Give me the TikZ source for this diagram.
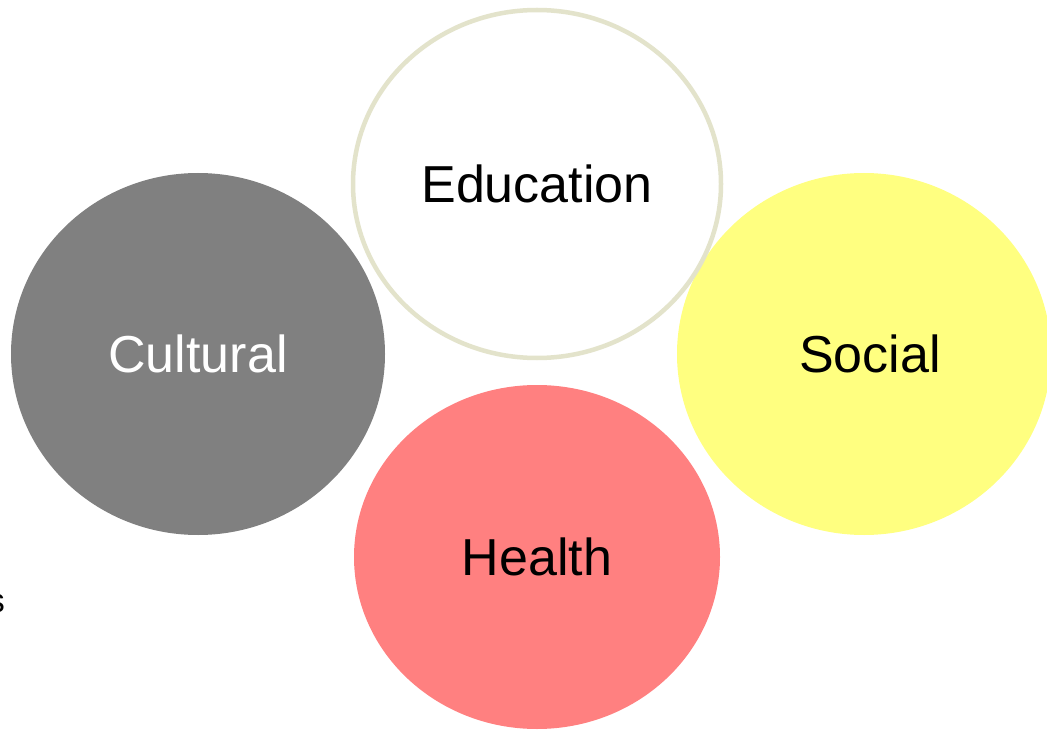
\documentclass[tikz,border=0pt]{standalone}
\usepackage{fontspec}
\setmainfont{Liberation Sans}
\definecolor{edgeol}{HTML}{E3E3CB}
\definecolor{cultgray}{HTML}{808080}
\definecolor{socyel}{HTML}{FFFF80}
\definecolor{healred}{HTML}{FF8080}
\tikzset{
  bubble/.style={ellipse, inner sep=0pt},
  lbl/.style={font=\fontsize{52}{60}\selectfont, inner sep=0pt, anchor=center},
}
\begin{document}
\begin{tikzpicture}[x=1pt,y=-1pt]
\useasboundingbox (0,0) rectangle (1047,730);
\clip (0,0) rectangle (1047,730);
\fill[white] (0,0) rectangle (1047,730);
% bubbles
\fill[cultgray] (198,354) ellipse [x radius=187, y radius=181];
\fill[socyel] (864,354) ellipse [x radius=187, y radius=181];
\fill[healred] (537,557) ellipse [x radius=183, y radius=172];
\draw[edgeol, line width=4.5pt, fill=white] (537,184) ellipse [x radius=184, y radius=174];
% labels
\node[lbl, text=black] (edu) at (537,184) {Education};
\node[lbl, text=white] (cult) at (198,354) {Cultural};
\node[lbl, text=black] (soc) at (870,354) {Social};
\node[lbl, text=black] (heal) at (537,557) {Health};
% clipped fragment at left edge
\node[font=\fontsize{34}{40}\selectfont, inner sep=0pt, anchor=base east] (frag) at (5,612) {s};
\end{tikzpicture}
\end{document}
